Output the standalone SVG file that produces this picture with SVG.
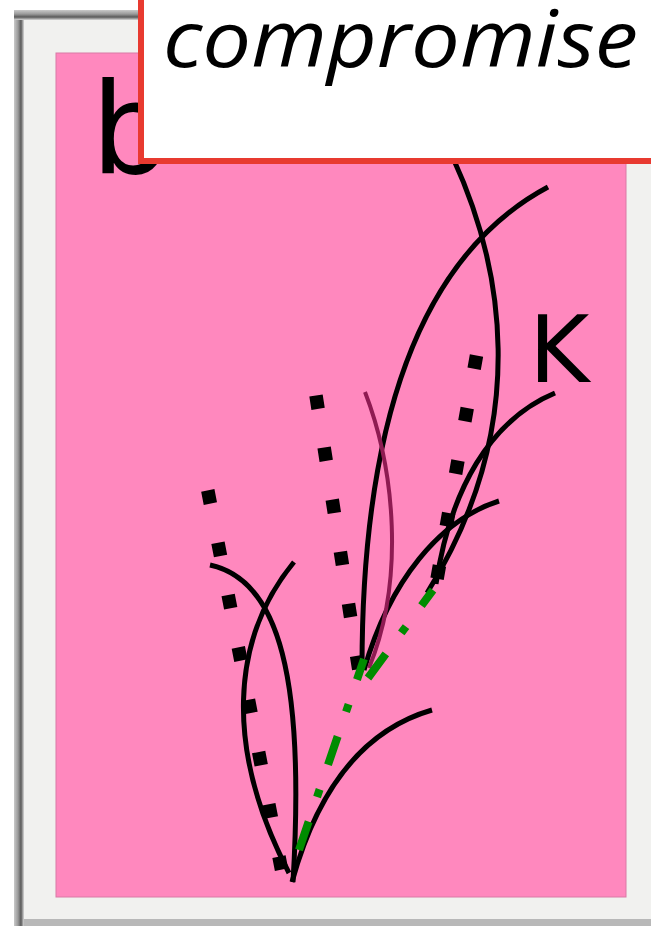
<svg xmlns="http://www.w3.org/2000/svg" width="651" height="926" viewBox="0 0 651 926">
<defs>
<style>
.c{fill:none;stroke:#000;stroke-width:5;stroke-linecap:butt}
.dots{fill:none;stroke:#000;stroke-width:13.5}
.g{fill:none;stroke:#008c00;stroke-width:8;stroke-dasharray:30 26 8 26}
.lbl{font-family:"DejaVu Sans",Verdana,sans-serif;fill:#000}
</style>
<linearGradient id="fl" x1="0" x2="1" y1="0" y2="0">
<stop offset="0" stop-color="#c9c9c9"/><stop offset="0.4" stop-color="#9a9a9a"/><stop offset="0.7" stop-color="#5a5a5a"/><stop offset="1" stop-color="#d8d8d8"/>
</linearGradient>
<linearGradient id="ft" x1="0" x2="0" y1="0" y2="1">
<stop offset="0" stop-color="#c9c9c9"/><stop offset="0.4" stop-color="#9a9a9a"/><stop offset="0.7" stop-color="#5a5a5a"/><stop offset="1" stop-color="#d8d8d8"/>
</linearGradient>
</defs>
<rect width="651" height="926" fill="#fff"/>
<g id="frame">
<rect x="14" y="10" width="660" height="930" fill="#d4d4d4"/>
<rect x="14" y="10" width="10" height="930" fill="url(#fl)"/>
<rect x="14" y="10" width="660" height="10" fill="url(#ft)"/>
<rect x="24" y="20" width="650" height="899" fill="#f1f1ef"/>
<rect x="24" y="919" width="650" height="7" fill="#b8b8b8"/>
<rect x="56" y="53" width="570" height="844" fill="#ff88be" stroke="#d97aa6" stroke-width="1"/>
</g>
<g id="label-b"><text class="lbl" x="91" y="173" font-size="126">b</text></g>
<g id="label-K"><text class="lbl" x="529" y="382" font-size="92">K</text></g>
<g id="connectors">
<path class="c" d="M453 158 C500 260 535 420 427 593"/>
<path class="c" d="M548 187 C430 250 362 400 362 668"/>
<path class="c" d="M555 393 C490 420 450 490 436 584"/>
<path class="c" d="M499 501 C440 520 390 580 364 670"/>
<path d="M365 392 C395 470 405 580 369 668" fill="none" stroke="#8e1b52" stroke-width="4"/>
<path class="c" d="M210 565 C280 580 305 680 293 882"/>
<path class="c" d="M294 562 C230 640 225 750 289 873"/>
<path class="c" d="M432 710 C370 728 320 780 292 882"/>
<path class="dots" d="M207.8 490.4 L281.5 869.6" stroke-dasharray="13.5 39.8"/>
<path class="dots" d="M316 395.5 L359 671" stroke-dasharray="13.5 39.2"/>
<path class="dots" d="M476.5 355.5 L436.5 582" stroke-dasharray="13.5 39.8"/>
<path class="g" d="M299 850 L364 659"/>
<path class="g" d="M368 678 L433 590"/>
</g>
<g id="title">
<rect x="141" y="-10" width="530" height="171" fill="#fff" stroke="#e83a30" stroke-width="6"/>
<text x="163" y="67" font-family="'Open Sans','Noto Sans',sans-serif" font-style="italic" font-size="78" textLength="475" lengthAdjust="spacingAndGlyphs" fill="#000">compromise</text>
</g>
</svg>
